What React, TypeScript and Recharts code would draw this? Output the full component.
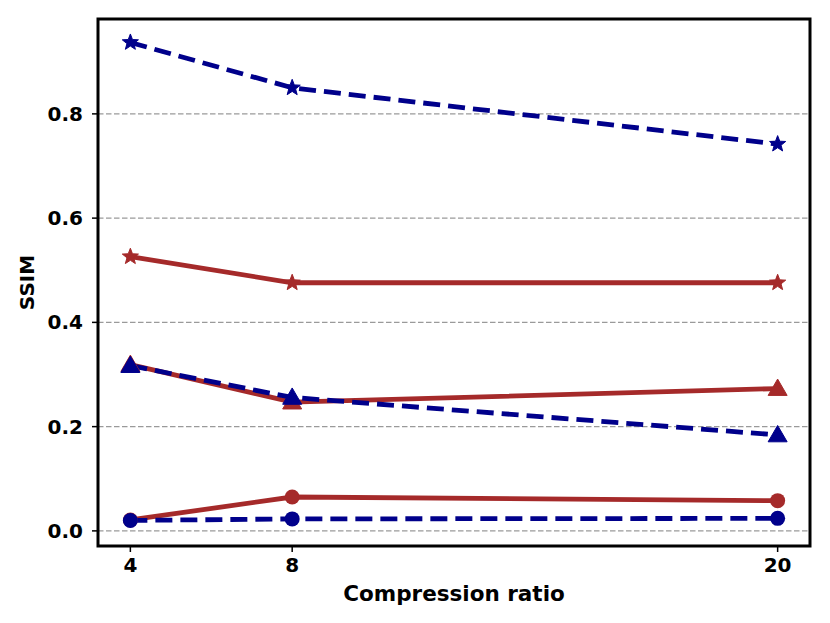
import { LineChart, Line, XAxis, YAxis, CartesianGrid, ReferenceArea } from 'recharts';

// compression ratios on the x axis
const ratios = [4, 8, 20];
const xTicks = [4, 8, 20];
const yTicks = [0, 0.2, 0.4, 0.6, 0.8];

// SSIM values
const blueStar = [0.937, 0.85, 0.742];
const redStar = [0.526, 0.476, 0.476];
const redTriangle = [0.319, 0.247, 0.273];
const blueTriangle = [0.317, 0.256, 0.184];
const redCircle = [0.021, 0.065, 0.058];
const blueCircle = [0.02, 0.023, 0.024];

const X_DOMAIN: [number, number] = [3.2, 20.8];
const Y_DOMAIN: [number, number] = [-0.029, 0.982];

const RED = '#a52a2a';
const BLUE = '#00008b';
const FONT = '"DejaVu Sans", sans-serif';

const rows = ratios.map((r, i) => ({
  ratio: r,
  blueStar: blueStar[i],
  redStar: redStar[i],
  redTriangle: redTriangle[i],
  blueTriangle: blueTriangle[i],
  redCircle: redCircle[i],
  blueCircle: blueCircle[i],
}));

function starPoints(cx: number, cy: number, ro: number, ri: number) {
  const pts: string[] = [];
  for (let k = 0; k < 10; k++) {
    const r = k % 2 === 0 ? ro : ri;
    const a = -Math.PI / 2 + (k * Math.PI) / 5;
    pts.push(`${cx + r * Math.cos(a)},${cy + r * Math.sin(a)}`);
  }
  return pts.join(' ');
}

const makeDot = (shape: 'star' | 'triangle' | 'circle', color: string) => (p: any) => {
  const { cx, cy, index } = p;
  if (cx == null || cy == null) return <g key={index} />;
  if (shape === 'star') {
    return <polygon key={index} points={starPoints(cx, cy, 8.5, 3.6)} fill={color} stroke={color} strokeWidth={1} />;
  }
  if (shape === 'triangle') {
    const s = 9.5;
    return (
      <polygon
        key={index}
        points={`${cx},${cy - s} ${cx - s},${cy + s * 0.72} ${cx + s},${cy + s * 0.72}`}
        fill={color}
        stroke={color}
        strokeWidth={1}
      />
    );
  }
  return <circle key={index} cx={cx} cy={cy} r={7.5} fill={color} />;
};

const tickStyle = { fontSize: 20, fontWeight: 700, fill: '#000', fontFamily: FONT };

export default function App(): JSX.Element {
  return (
    <div style={{ position: 'absolute', left: 0, top: 0, background: '#fff' }}>
      <LineChart width={830} height={623} data={rows} margin={{ top: 19, right: 20, left: 0, bottom: 0 }}>
        <CartesianGrid vertical={false} stroke='#9a9a9a' strokeDasharray='5.5 2.5' strokeWidth={1.2} />
        <XAxis
          dataKey='ratio'
          type='number'
          domain={X_DOMAIN}
          ticks={xTicks}
          height={77}
          axisLine={false}
          tickSize={6}
          tickMargin={6}
          tickLine={{ stroke: '#000', strokeWidth: 1.5 }}
          tick={tickStyle}
          label={{
            value: 'Compression ratio',
            position: 'insideBottom',
            offset: 22,
            style: { fontSize: 21.5, fontWeight: 700, fill: '#000', fontFamily: FONT },
          }}
        />
        <YAxis
          type='number'
          domain={Y_DOMAIN}
          ticks={yTicks}
          width={98}
          axisLine={false}
          tickSize={6}
          tickMargin={9}
          tickLine={{ stroke: '#000', strokeWidth: 1.5 }}
          tick={tickStyle}
          tickFormatter={(v: number) => v.toFixed(1)}
          label={(props: any) => {
            const vb = props.viewBox || {};
            const y = (vb.y ?? 19) + (vb.height ?? 527) / 2;
            return (
              <text
                x={27}
                y={y}
                transform={`rotate(-90, 27, ${y})`}
                textAnchor='middle'
                dominantBaseline='central'
                style={{ fontSize: 20, fontWeight: 700, fill: '#000', fontFamily: FONT }}
              >
                SSIM
              </text>
            );
          }}
        />
        <Line dataKey='redStar' stroke={RED} strokeWidth={4.8} dot={makeDot('star', RED)} activeDot={false} isAnimationActive={false} />
        <Line dataKey='redTriangle' stroke={RED} strokeWidth={4.8} dot={makeDot('triangle', RED)} activeDot={false} isAnimationActive={false} />
        <Line dataKey='redCircle' stroke={RED} strokeWidth={4.8} dot={makeDot('circle', RED)} activeDot={false} isAnimationActive={false} />
        <Line dataKey='blueStar' stroke={BLUE} strokeWidth={4.8} strokeDasharray='17 8' dot={makeDot('star', BLUE)} activeDot={false} isAnimationActive={false} />
        <Line dataKey='blueTriangle' stroke={BLUE} strokeWidth={4.8} strokeDasharray='17 8' dot={makeDot('triangle', BLUE)} activeDot={false} isAnimationActive={false} />
        <Line dataKey='blueCircle' stroke={BLUE} strokeWidth={4.8} strokeDasharray='17 8' dot={makeDot('circle', BLUE)} activeDot={false} isAnimationActive={false} />
        <ReferenceArea
          x1={X_DOMAIN[0]}
          x2={X_DOMAIN[1]}
          y1={Y_DOMAIN[0]}
          y2={Y_DOMAIN[1]}
          fill='none'
          stroke='#000'
          strokeWidth={3}
          ifOverflow='visible'
        />
      </LineChart>
    </div>
  );
}
